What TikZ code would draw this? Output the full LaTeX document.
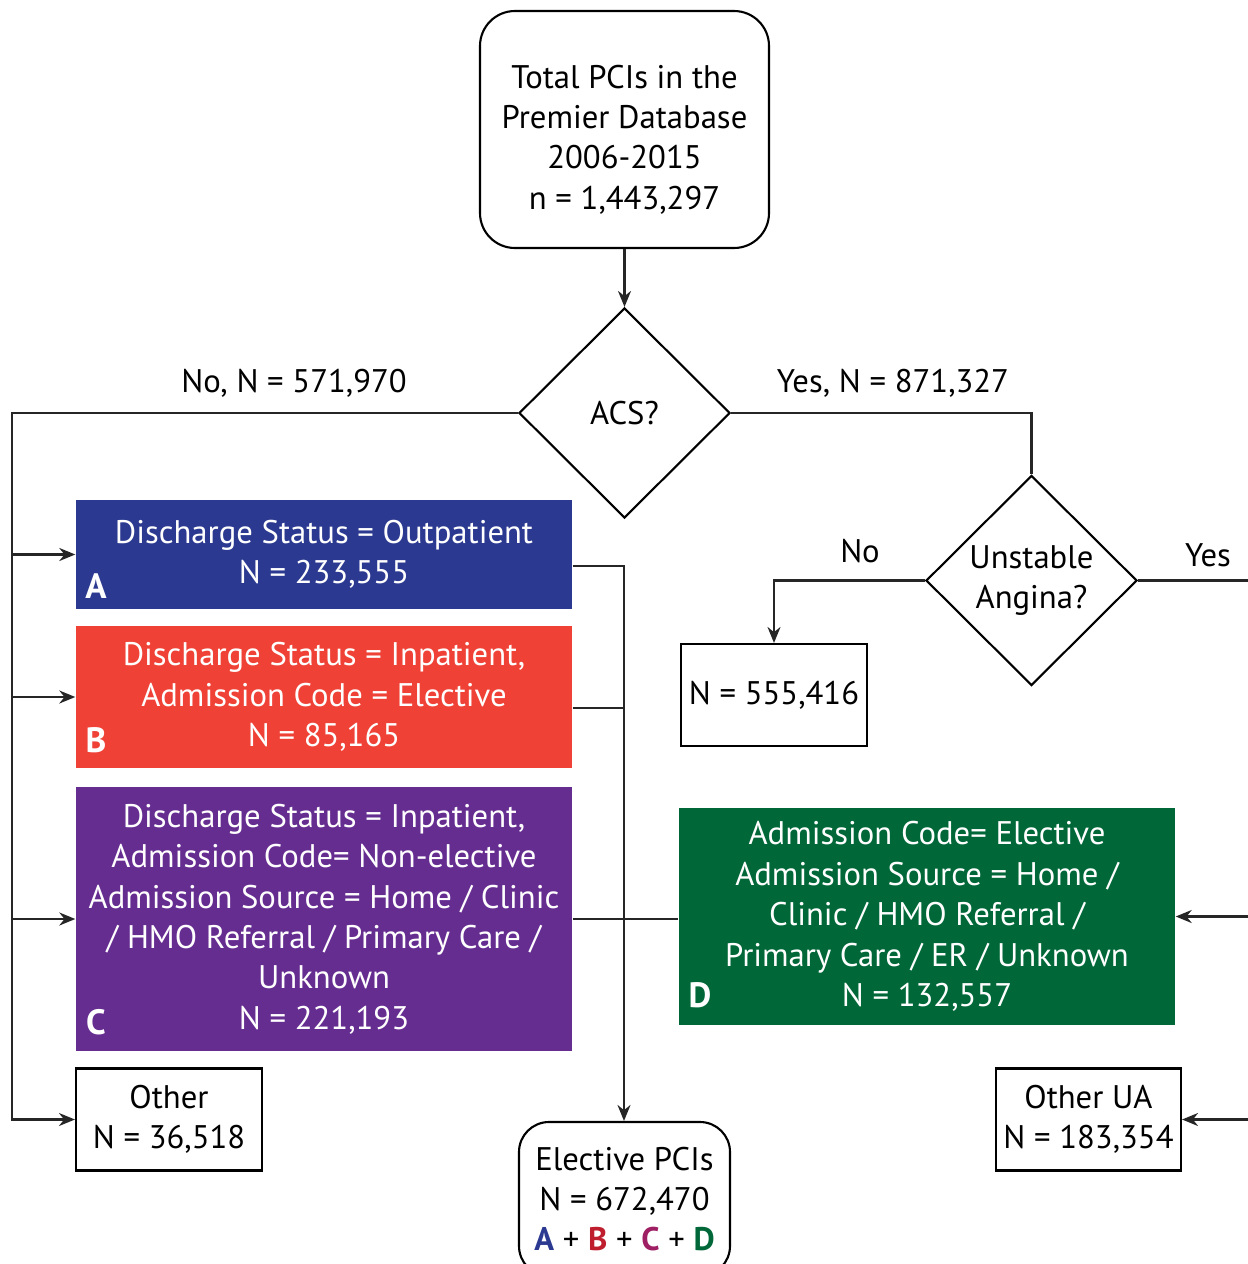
\documentclass[tikz,border=0pt]{standalone}
\usepackage{fontspec}
\setmainfont{PT Sans}
\usetikzlibrary{
    arrows.meta,
    shapes.geometric
}
\definecolor{blueA}{HTML}{2B3990}
\definecolor{redB}{HTML}{EF4136}
\definecolor{purpleC}{HTML}{662D91}
\definecolor{greenD}{HTML}{006838}
\definecolor{darkredB}{HTML}{BE1E2D}
\definecolor{plumC}{HTML}{9E1F63}
\tikzset{
    link/.style={line width=0.6pt, black!85},
    flow/.style={link, -{Stealth[length=1.6mm, width=1.3mm]}},
    startbox/.style={draw, line width=0.6pt, rounded corners=0.35cm, align=center},
    decision/.style={draw, line width=0.6pt, diamond, inner sep=0pt, align=center,
        minimum width=2.11cm, minimum height=2.1cm},
    countbox/.style={draw, line width=0.6pt, align=center, minimum width=1.86cm,
        minimum height=1.02cm, inner sep=0pt},
    catbox/.style={align=center, text=white, minimum width=4.96cm, inner sep=0pt},
    letter/.style={text=white, font=\fontsize{10}{12}\selectfont\bfseries},
    note/.style={align=center}
}

\begin{document}
\begin{tikzpicture}[font=\fontsize{9.3}{11.5}\selectfont]
    \useasboundingbox (0,0) rectangle (12.48,-12.64);
    % top of the flow
    \node[startbox, minimum width=2.89cm, minimum height=2.37cm] (total) at (6.245,-1.295) {};
    \node[note] (totaltext) at ([yshift=-0.1cm]total.center)
        {Total PCIs in the\\Premier Database\\2006-2015\\n = 1,443,297};
    \node[decision] (acs) at (6.245,-4.13) {ACS?};
    \node[decision] (ua) at (10.315,-5.805) {Unstable\\Angina?};
    \node[countbox] (nostable) at (7.74,-6.95) {N = 555,416};

    % elective categories
    \node[catbox, fill=blueA, minimum height=1.09cm] (catA) at (3.24,-5.545)
        {Discharge Status = Outpatient\\N = 233,555};
    \node[catbox, fill=redB, minimum height=1.42cm] (catB) at (3.24,-6.97)
        {Discharge Status = Inpatient,\\Admission Code = Elective\\N = 85,165};
    \node[catbox, fill=purpleC, minimum height=2.64cm] (catC) at (3.24,-9.19)
        {Discharge Status = Inpatient,\\Admission Code= Non-elective\\Admission Source = Home / Clinic\\/ HMO Referral / Primary Care /\\Unknown\\N = 221,193};
    \node[catbox, fill=greenD, minimum height=2.17cm] (catD) at (9.27,-9.165)
        {Admission Code= Elective\\Admission Source = Home /\\Clinic / HMO Referral /\\Primary Care / ER / Unknown\\N = 132,557};
    \node[letter] (labA) at (0.96,-5.86) {A};
    \node[letter] (labB) at (0.96,-7.40) {B};
    \node[letter] (labC) at (0.96,-10.22) {C};
    \node[letter] (labD) at (7.00,-9.95) {D};

    \node[countbox] (other) at (1.69,-11.195) {Other\\N = 36,518};
    \node[countbox, minimum width=1.85cm] (otherua) at (10.885,-11.195) {Other UA\\N = 183,354};
    \node[startbox, rounded corners=0.3cm, minimum width=2.11cm, minimum height=1.54cm] (elective) at (6.245,-11.99)
        {Elective PCIs\\N = 672,470\\{\bfseries\color{blueA}A} + {\bfseries\color{darkredB}B} + {\bfseries\color{plumC}C} + {\bfseries\color{greenD}D}};

    % branch labels
    \node[note] (nolab) at (2.94,-3.83) {No, N = 571,970};
    \node[note] (yeslab) at (8.93,-3.83) {Yes, N = 871,327};
    \node[note] (uano) at (8.60,-5.51) {No};
    \node[note] (uayes) at (12.08,-5.55) {Yes};

    % helper points
    \coordinate (lft) at (0.12,0);
    \coordinate (rgt) at (12.48,0);
    \coordinate (mid) at (6.24,-5.66);
    \coordinate (jB) at (6.24,-7.08);

    % connectors
    \draw[flow] (total) -- (acs);
    \draw[flow] (acs.west) -| (lft |- other.west) -- (other.west);
    \draw[flow] (lft |- catA.west) -- (catA.west);
    \draw[flow] (lft |- catB.west) -- (catB.west);
    \draw[flow] (lft |- catC.west) -- (catC.west);
    \draw[link] (acs.east) -| (ua.north);
    \draw[flow] (ua.west) -| (nostable.north);
    \draw[link] (ua.east) -- (ua.east -| rgt);
    \draw[flow] (catA.east |- mid) -- (mid) -- (mid |- elective.north);
    \draw[link] (catB.east |- jB) -- (jB);
    \draw[link] (catC.east) -- (catC.east -| catD.west);
    \draw[flow] (rgt |- catD.east) -- (catD.east);
    \draw[flow] (rgt |- otherua.east) -- (otherua.east);
\end{tikzpicture}
\end{document}
